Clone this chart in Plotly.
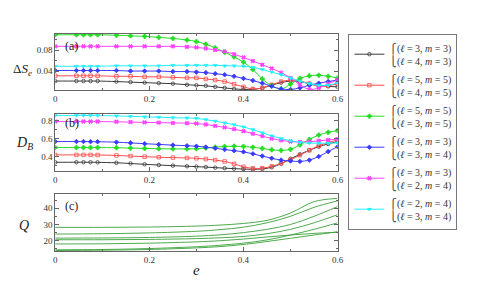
import plotly.graph_objects as go

# ---------------- data ----------------
E = [0, .045, .06, .075, .09, .13, .16, .19, .22, .25, .28, .30, .32, .34, .36,
     .38, .40, .42, .44, .46, .48, .50, .52, .54, .56, .58, .60]

names = [
    "⎧(<i>ℓ</i> = 3, <i>m</i> = 3)<br>⎩(<i>ℓ</i> = 4, <i>m</i> = 3)",
    "⎧(<i>ℓ</i> = 5, <i>m</i> = 5)<br>⎩(<i>ℓ</i> = 4, <i>m</i> = 5)",
    "⎧(<i>ℓ</i> = 5, <i>m</i> = 5)<br>⎩(<i>ℓ</i> = 3, <i>m</i> = 5)",
    "⎧(<i>ℓ</i> = 3, <i>m</i> = 3)<br>⎩(<i>ℓ</i> = 3, <i>m</i> = 4)",
    "⎧(<i>ℓ</i> = 3, <i>m</i> = 3)<br>⎩(<i>ℓ</i> = 2, <i>m</i> = 4)",
    "⎧(<i>ℓ</i> = 2, <i>m</i> = 4)<br>⎩(<i>ℓ</i> = 3, <i>m</i> = 4)",
]

# panel (a): Delta S_e
dS_black = [0.021, 0.021, 0.021, 0.021, 0.021, 0.020, 0.019, 0.018, 0.017, 0.016, 0.014, 0.013, 0.012, 0.010,
            0.008, 0.006, 0.005, 0.005, 0.008, 0.013, 0.018, 0.021, 0.020, 0.016, 0.013, 0.011, 0.010]
dS_red = [0.031, 0.031, 0.031, 0.031, 0.031, 0.030, 0.030, 0.029, 0.029, 0.028, 0.027, 0.027, 0.025, 0.023,
          0.020, 0.015, 0.010, 0.006, 0.008, 0.014, 0.020, 0.023, 0.021, 0.016, 0.011, 0.012, 0.016]
dS_green = [0.109, 0.109, 0.109, 0.109, 0.109, 0.108, 0.107, 0.106, 0.104, 0.102, 0.099, 0.096, 0.091, 0.084,
            0.076, 0.067, 0.057, 0.043, 0.025, 0.012, 0.006, 0.015, 0.026, 0.031, 0.032, 0.030, 0.027]
dS_blue = [0.041, 0.041, 0.041, 0.041, 0.041, 0.041, 0.040, 0.040, 0.040, 0.039, 0.039, 0.038, 0.037, 0.035,
           0.033, 0.030, 0.026, 0.022, 0.017, 0.011, 0.006, 0.005, 0.008, 0.013, 0.017, 0.020, 0.023]
dS_magenta = [0.087, 0.087, 0.087, 0.087, 0.087, 0.087, 0.087, 0.087, 0.087, 0.087, 0.086, 0.085, 0.083, 0.080,
              0.077, 0.072, 0.066, 0.059, 0.052, 0.045, 0.037, 0.027, 0.014, 0.005, 0.008, 0.016, 0.023]
dS_cyan = [0.049, 0.049, 0.049, 0.049, 0.049, 0.050, 0.050, 0.050, 0.050, 0.051, 0.051, 0.051, 0.051, 0.051,
           0.050, 0.050, 0.049, 0.047, 0.043, 0.038, 0.033, 0.027, 0.021, 0.016, 0.013, 0.013, 0.018]

# panel (b): D_B
DB_black = [0.336, 0.336, 0.336, 0.336, 0.335, 0.330, 0.322, 0.313, 0.305, 0.298, 0.291, 0.287, 0.282, 0.276,
            0.270, 0.265, 0.260, 0.257, 0.262, 0.280, 0.320, 0.375, 0.425, 0.470, 0.510, 0.540, 0.567]
DB_red = [0.418, 0.418, 0.418, 0.418, 0.417, 0.412, 0.405, 0.398, 0.392, 0.388, 0.384, 0.380, 0.372, 0.360,
          0.345, 0.318, 0.285, 0.268, 0.270, 0.290, 0.325, 0.365, 0.415, 0.470, 0.520, 0.555, 0.585]
DB_green = [0.500, 0.500, 0.500, 0.500, 0.500, 0.498, 0.494, 0.490, 0.487, 0.485, 0.485, 0.487, 0.495, 0.505,
            0.512, 0.515, 0.512, 0.503, 0.490, 0.475, 0.468, 0.480, 0.530, 0.590, 0.640, 0.670, 0.690]
DB_blue = [0.567, 0.567, 0.567, 0.566, 0.565, 0.560, 0.552, 0.543, 0.535, 0.527, 0.520, 0.515, 0.505, 0.492,
           0.478, 0.465, 0.452, 0.430, 0.405, 0.380, 0.360, 0.350, 0.345, 0.360, 0.400, 0.455, 0.510]
DB_magenta = [0.790, 0.790, 0.790, 0.790, 0.790, 0.787, 0.784, 0.781, 0.778, 0.775, 0.772, 0.768, 0.758, 0.742,
              0.725, 0.705, 0.683, 0.655, 0.628, 0.600, 0.580, 0.567, 0.562, 0.565, 0.575, 0.585, 0.595]
DB_cyan = [0.858, 0.858, 0.858, 0.858, 0.857, 0.853, 0.848, 0.843, 0.838, 0.833, 0.830, 0.825, 0.812, 0.795,
           0.775, 0.755, 0.730, 0.700, 0.665, 0.630, 0.600, 0.575, 0.558, 0.550, 0.548, 0.548, 0.552]

# panel (c): Q of the 7 distinct modes
QE = [0, 0.1, 0.2, 0.3, 0.35, 0.4, 0.45, 0.5, 0.55, 0.6]
Q_lines = [
    [28.2, 28.2, 28.4, 29.0, 29.6, 30.6, 32.5, 37.0, 44.0, 46.0],
    [24.1, 24.3, 24.8, 25.8, 26.8, 28.3, 31.0, 35.0, 40.5, 44.5],
    [21.6, 21.7, 22.0, 22.8, 23.6, 25.0, 27.0, 30.0, 35.0, 41.0],
    [20.6, 20.6, 20.8, 21.3, 21.8, 22.6, 24.3, 27.0, 31.0, 36.0],
    [18.0, 18.1, 18.5, 19.3, 20.0, 21.0, 22.3, 23.5, 24.5, 25.2],
    [14.4, 14.6, 15.2, 16.3, 17.2, 18.5, 20.5, 23.5, 27.0, 31.0],
    [14.0, 14.2, 14.6, 15.6, 16.4, 17.7, 19.5, 21.5, 23.5, 25.5],
]

dS_series = [dS_black, dS_red, dS_green, dS_blue, dS_magenta, dS_cyan]
DB_series = [DB_black, DB_red, DB_green, DB_blue, DB_magenta, DB_cyan]

# ---------------- styles ----------------
colors = ["#3a3a3a", "#ff4a4a", "#22dd22", "#3a3aff", "#ff40ff", "#22f0ff"]
symbols = ["circle-open", "square-open", "cross", "diamond", "x", "triangle-down"]
msizes = [3.5, 3.5, 3.5, 3.5, 3.5, 3.5]

serif = "Liberation Serif, Times New Roman, DejaVu Serif, serif"

fig = go.Figure()
for i in range(6):
    fig.add_trace(go.Scatter(
        x=E, y=dS_series[i], mode="lines+markers", name=names[i],
        line=dict(color=colors[i], width=1, shape="spline"),
        marker=dict(symbol=symbols[i], size=msizes[i], color=colors[i],
                    line=dict(width=0.8, color=colors[i])),
        xaxis="x", yaxis="y", legendgroup=f"g{i}", showlegend=True))
for i in range(6):
    fig.add_trace(go.Scatter(
        x=E, y=DB_series[i], mode="lines+markers", name=names[i],
        line=dict(color=colors[i], width=1, shape="spline"),
        marker=dict(symbol=symbols[i], size=msizes[i], color=colors[i],
                    line=dict(width=0.8, color=colors[i])),
        xaxis="x2", yaxis="y2", legendgroup=f"g{i}", showlegend=False))
for q in Q_lines:
    fig.add_trace(go.Scatter(
        x=QE, y=q, mode="lines", line=dict(color="#3aa03a", width=0.9, shape="spline"),
        xaxis="x3", yaxis="y3", showlegend=False))

tickfont = dict(family=serif, size=9, color="#333")
axcommon = dict(showline=True, linecolor="#666", linewidth=1, mirror="allticks",
                ticks="inside", ticklen=4, tickcolor="#666", showgrid=False,
                zeroline=False, tickfont=tickfont)
xdom = [46 / 491, 333 / 491]


def ydom(top, bot):
    return [1 - bot / 296, 1 - top / 296]


xa = dict(axcommon, domain=xdom, range=[0, 0.6], tickvals=[0, 0.2, 0.4, 0.6],
          ticktext=["0", "0.2", "0.4", "0.6"],
          minor=dict(dtick=0.1, ticks="inside", ticklen=2, tickcolor="#666"))

fig.update_layout(
    width=491, height=296,
    margin=dict(l=0, r=0, t=0, b=0),
    paper_bgcolor="white", plot_bgcolor="white",
    xaxis=dict(xa, anchor="y"),
    xaxis2=dict(xa, anchor="y2"),
    xaxis3=dict(xa, anchor="y3"),
    yaxis=dict(axcommon, domain=ydom(25.7, 82), anchor="x", range=[0.004, 0.111],
               tickvals=[0.04, 0.08], ticktext=["0.04", "0.08"],
               minor=dict(dtick=0.02, ticks="inside", ticklen=2, tickcolor="#666")),
    yaxis2=dict(axcommon, domain=ydom(105.5, 163.3), anchor="x2", range=[0.235, 0.88],
                tickvals=[0.4, 0.6, 0.8], ticktext=["0.4", "0.6", "0.8"],
                minor=dict(dtick=0.1, ticks="inside", ticklen=2, tickcolor="#666")),
    yaxis3=dict(axcommon, domain=ydom(185.5, 243.3), anchor="x3", range=[13.5, 49],
                tickvals=[20, 30, 40], ticktext=["20", "30", "40"],
                minor=dict(dtick=5, ticks="inside", ticklen=2, tickcolor="#666")),
    legend=dict(x=344 / 491, y=1 - 25.7 / 296, xanchor="left", yanchor="top",
                bordercolor="#777", borderwidth=1, bgcolor="white",
                font=dict(family=serif, size=10, color="#333"),
                tracegroupgap=2, itemwidth=30),
    showlegend=True,
)

ann = [
    dict(text="Δ<i>S</i><sub><i>e</i></sub>", x=13 / 491, y=1 - 61 / 296, size=13),
    dict(text="<i>D</i><sub><i>B</i></sub>", x=15 / 491, y=1 - 135 / 296, size=14),
    dict(text="<i>Q</i>", x=14 / 491, y=1 - 217 / 296, size=14),
    dict(text="<i>e</i>", x=190 / 491, y=1 - 262 / 296, size=15),
    dict(text="(a)", x=63 / 491, y=1 - 38 / 296, size=12),
    dict(text="(b)", x=63 / 491, y=1 - 115 / 296, size=12),
    dict(text="(c)", x=63 / 491, y=1 - 198 / 296, size=12),
]
fig.update_layout(annotations=[
    dict(text=a["text"], x=a["x"], y=a["y"], xref="paper", yref="paper",
         showarrow=False, xanchor="center", yanchor="middle",
         font=dict(family=serif, size=a["size"], color="#222")) for a in ann])

fig.write_html("out.html")
